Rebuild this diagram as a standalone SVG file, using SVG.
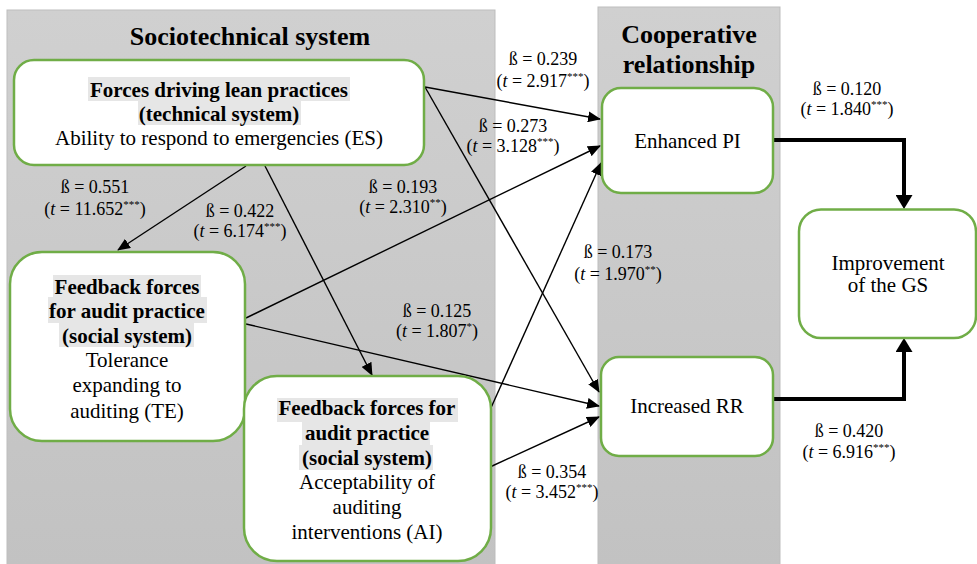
<svg xmlns="http://www.w3.org/2000/svg" width="977" height="564" viewBox="0 0 977 564">
<style>
.node{fill:#ffffff;stroke:#70ad47;stroke-width:2.5}
.panel{stroke:#bdbdbd;stroke-width:1}
text{font-family:'Liberation Serif','DejaVu Serif',serif;fill:#000;text-anchor:middle}
.t{font-size:21px}
.b{font-weight:bold}
.title{font-size:26px;font-weight:bold}
.lbl{font-size:18px}
.hl{fill:#e6e6e6}
.thin{stroke:#000;stroke-width:1.4;fill:none;marker-end:url(#a)}
.thick{stroke:#000;stroke-width:4;fill:none;marker-end:url(#ab)}
</style>
<defs>
<linearGradient id="g" x1="0" y1="0" x2="0" y2="1">
<stop offset="0" stop-color="#d0d0d0"/>
<stop offset="1" stop-color="#c2c2c2"/>
</linearGradient>
<marker id="a" markerUnits="userSpaceOnUse" markerWidth="13" markerHeight="11" refX="12" refY="5.5" orient="auto">
<path d="M0,0 L13,5.5 L0,11 z" fill="#000"/>
</marker>
<marker id="ab" markerUnits="userSpaceOnUse" markerWidth="14" markerHeight="17" refX="0" refY="8.5" orient="auto">
<path d="M0,0 L14,8.5 L0,17 z" fill="#000"/>
</marker>
</defs>
<rect width="977" height="564" fill="#ffffff"/>
<g id="panel-sociotechnical">
<rect class="panel" x="7" y="10" width="488" height="556" fill="url(#g)"/>
<text class="title" x="250" y="45">Sociotechnical system</text>
</g>
<g id="panel-cooperative">
<rect class="panel" x="598" y="7" width="182" height="559" fill="url(#g)"/>
<text class="title" x="689" y="43">Cooperative</text>
<text class="title" x="689" y="73">relationship</text>
</g>
<g id="connectors">
<line class="thin" x1="425" y1="87" x2="600" y2="119"/>
<line class="thin" x1="425" y1="87" x2="599" y2="392"/>
<line class="thin" x1="246" y1="166" x2="118" y2="250"/>
<line class="thin" x1="265" y1="166" x2="372" y2="375"/>
<line class="thin" x1="246" y1="318" x2="600" y2="146"/>
<line class="thin" x1="246" y1="324" x2="599" y2="406"/>
<line class="thin" x1="490" y1="410" x2="601" y2="163"/>
<line class="thin" x1="490" y1="467" x2="599" y2="417"/>
<polyline class="thick" points="773,140 904,140 904,195"/>
<polyline class="thick" points="773,399 904,399 904,352"/>
</g>
<g id="labels">
<text class="lbl" x="543" y="65">ß = 0.239</text>
<text class="lbl" x="543" y="87">(<tspan font-style="italic">t</tspan> = 2.917<tspan font-size="11" dy="-7">***</tspan><tspan dy="7">)</tspan></text>
<text class="lbl" x="513" y="132">ß = 0.273</text>
<text class="lbl" x="513" y="152">(<tspan font-style="italic">t</tspan> = 3.128<tspan font-size="11" dy="-7">***</tspan><tspan dy="7">)</tspan></text>
<text class="lbl" x="847" y="95">ß = 0.120</text>
<text class="lbl" x="847" y="115">(<tspan font-style="italic">t</tspan> = 1.840<tspan font-size="11" dy="-7">***</tspan><tspan dy="7">)</tspan></text>
<text class="lbl" x="95" y="193">ß = 0.551</text>
<text class="lbl" x="95" y="215">(<tspan font-style="italic">t</tspan> = 11.652<tspan font-size="11" dy="-7">***</tspan><tspan dy="7">)</tspan></text>
<text class="lbl" x="240" y="217">ß = 0.422</text>
<text class="lbl" x="240" y="237">(<tspan font-style="italic">t</tspan> = 6.174<tspan font-size="11" dy="-7">***</tspan><tspan dy="7">)</tspan></text>
<text class="lbl" x="403" y="193">ß = 0.193</text>
<text class="lbl" x="403" y="213">(<tspan font-style="italic">t</tspan> = 2.310<tspan font-size="11" dy="-7">**</tspan><tspan dy="7">)</tspan></text>
<text class="lbl" x="618" y="258">ß = 0.173</text>
<text class="lbl" x="618" y="280">(<tspan font-style="italic">t</tspan> = 1.970<tspan font-size="11" dy="-7">**</tspan><tspan dy="7">)</tspan></text>
<text class="lbl" x="437" y="317">ß = 0.125</text>
<text class="lbl" x="437" y="337">(<tspan font-style="italic">t</tspan> = 1.807<tspan font-size="11" dy="-7">*</tspan><tspan dy="7">)</tspan></text>
<text class="lbl" x="552" y="478">ß = 0.354</text>
<text class="lbl" x="552" y="498">(<tspan font-style="italic">t</tspan> = 3.452<tspan font-size="11" dy="-7">***</tspan><tspan dy="7">)</tspan></text>
<text class="lbl" x="849" y="437">ß = 0.420</text>
<text class="lbl" x="849" y="458">(<tspan font-style="italic">t</tspan> = 6.916<tspan font-size="11" dy="-7">***</tspan><tspan dy="7">)</tspan></text>
</g>
<g id="node-ES">
<rect class="node" x="14" y="60" width="410" height="105" rx="20"/>
<rect class="hl" x="88" y="77" width="262" height="24"/>
<rect class="hl" x="138" y="101" width="163" height="24"/>
<text class="t b" x="219" y="96.5">Forces driving lean practices</text>
<text class="t b" x="219" y="120.5">(technical system)</text>
<text class="t" x="219" y="145">Ability to respond to emergencies (ES)</text>
</g>
<g id="node-TE">
<rect class="node" x="10" y="252" width="235" height="189" rx="32"/>
<rect class="hl" x="53" y="275" width="148" height="22"/>
<rect class="hl" x="48" y="297" width="159" height="26"/>
<rect class="hl" x="59" y="323" width="135" height="24"/>
<text class="t b" x="127" y="293.5">Feedback forces</text>
<text class="t b" x="127" y="318">for audit practice</text>
<text class="t b" x="127" y="342.5">(social system)</text>
<text class="t" x="127" y="367">Tolerance</text>
<text class="t" x="127" y="391.5">expanding to</text>
<text class="t" x="127" y="418">auditing (TE)</text>
</g>
<g id="node-AI">
<rect class="node" x="244" y="376" width="247" height="185" rx="33"/>
<rect class="hl" x="277" y="398" width="181" height="24"/>
<rect class="hl" x="302" y="422" width="128" height="23"/>
<rect class="hl" x="299" y="445" width="134" height="25"/>
<text class="t b" x="367" y="415">Feedback forces for</text>
<text class="t b" x="367" y="440">audit practice</text>
<text class="t b" x="367" y="464.5">(social system)</text>
<text class="t" x="367" y="489">Acceptability of</text>
<text class="t" x="367" y="514">auditing</text>
<text class="t" x="367" y="538.5">interventions (AI)</text>
</g>
<g id="node-PI">
<rect class="node" x="602" y="88" width="171" height="105" rx="19"/>
<text class="t" x="687.5" y="148">Enhanced PI</text>
</g>
<g id="node-RR">
<rect class="node" x="601" y="357" width="172" height="99" rx="18"/>
<text class="t" x="687" y="413">Increased RR</text>
</g>
<g id="node-GS">
<rect class="node" x="799" y="209.5" width="177" height="128.5" rx="22"/>
<text class="t" x="888" y="270">Improvement</text>
<text class="t" x="888" y="292">of the GS</text>
</g>
</svg>
